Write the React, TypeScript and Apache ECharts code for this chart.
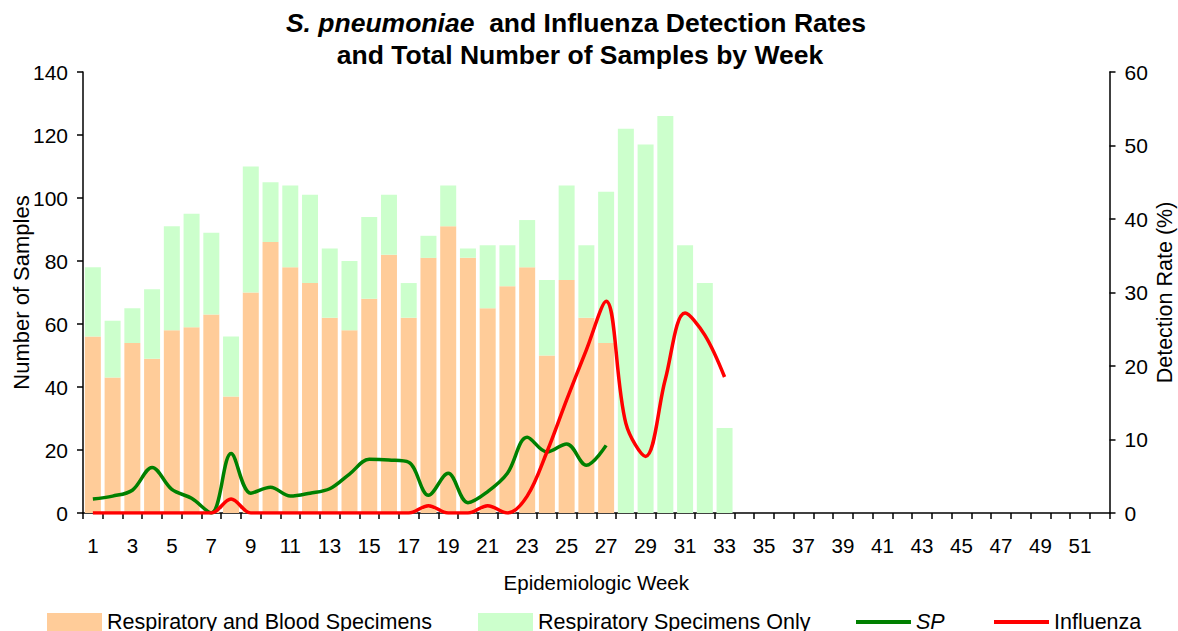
import React, { useEffect, useRef } from "react";
import * as echarts from "echarts";

const weeks: string[] = Array.from({ length: 52 }, (_, i) => String(i + 1));

// Respiratory and Blood Specimens (weeks 1-33)
const respBlood: number[] = [
  56, 43, 54, 49, 58, 59, 63, 37, 70, 86, 78, 73, 62, 58, 68, 82, 62, 81, 91, 81,
  65, 72, 78, 50, 74, 62, 54, 0, 0, 0, 0, 0, 0,
];
// Total samples per week (weeks 1-33)
const totalSamples: number[] = [
  78, 61, 65, 71, 91, 95, 89, 56, 110, 105, 104, 101, 84, 80, 94, 101, 73, 88, 104, 84,
  85, 85, 93, 74, 104, 85, 102, 122, 117, 126, 85, 73, 27,
];
// Respiratory Specimens Only = total - resp&blood
const respOnly: number[] = totalSamples.map((t, i) => t - respBlood[i]);

// Detection rates (%)
const spRate: number[] = [
  1.9, 2.3, 3.1, 6.2, 3.2, 2.0, 0, 8.1, 2.7, 3.5, 2.3, 2.7, 3.3, 5.3, 7.3, 7.2, 6.9, 2.4,
  5.4, 1.4, 2.9, 5.4, 10.3, 8.3, 9.4, 6.5, 9.2,
];
const fluRate: number[] = [
  0, 0, 0, 0, 0, 0, 0, 1.9, 0, 0, 0, 0, 0, 0, 0, 0, 0, 1.0, 0, 0, 1.0, 0, 2.3, 8.3,
  15.4, 22.2, 28.8, 12.2, 7.7, 18.2, 27.2, 24.2, 18.5,
];

const FONT = "'Liberation Sans', Arial, Helvetica, sans-serif";

export default function App() {
  const ref = useRef<HTMLDivElement>(null);
  useEffect(() => {
    if (!ref.current) return;
    const chart = echarts.init(ref.current, null, { renderer: "svg" });
    const axisLine = { show: true, lineStyle: { color: "#000", width: 1.5 } };
    const textStyle = { fontSize: 21.5, fontFamily: FONT, color: "#000" };
    const barLegend = {
      top: 611,
      itemWidth: 55,
      itemHeight: 18,
      padding: 0,
      textStyle,
    };
    const lineLegend = {
      top: 611,
      itemWidth: 55,
      itemHeight: 4,
      padding: 0,
      textStyle,
    };
    chart.setOption({
      animation: false,
      backgroundColor: "#fff",
      textStyle: { fontFamily: FONT },
      graphic: [
        {
          type: "text",
          x: 576,
          y: 23,
          style: {
            text: "{i|S. pneumoniae}  and Influenza Detection Rates",
            align: "center",
            verticalAlign: "middle",
            fontSize: 26.5,
            fontWeight: "bold",
            fontFamily: FONT,
            fill: "#000",
            rich: {
              i: { fontStyle: "italic", fontWeight: "bold", fontSize: 26.5, fontFamily: FONT, fill: "#000" },
            },
          },
        },
        {
          type: "text",
          x: 580,
          y: 55,
          style: {
            text: "and Total Number of Samples by Week",
            align: "center",
            verticalAlign: "middle",
            fontSize: 26.5,
            fontWeight: "bold",
            fontFamily: FONT,
            fill: "#000",
          },
        },
      ],
      grid: { left: 83, right: 68.5, top: 72, bottom: 118, outerBoundsMode: "none", containLabel: false },
      legend: [
        { ...barLegend, left: 47, data: [{ name: "Respiratory and Blood Specimens", icon: "rect" }] },
        { ...barLegend, left: 478, data: [{ name: "Respiratory Specimens Only", icon: "rect" }] },
        {
          ...lineLegend,
          left: 856,
          data: [{ name: "SP", icon: "rect" }],
          textStyle: { ...textStyle, fontStyle: "italic" },
        },
        { ...lineLegend, left: 994, data: [{ name: "Influenza", icon: "rect" }] },
      ],
      xAxis: {
        type: "category",
        data: weeks,
        boundaryGap: true,
        name: "Epidemiologic Week",
        nameLocation: "middle",
        nameGap: 59,
        nameMoveOverlap: false,
        nameTextStyle: { fontSize: 20.5, fontFamily: FONT, color: "#000" },
        axisLine,
        axisTick: { show: true, interval: 0, length: 6, lineStyle: { color: "#000", width: 1.5 } },
        axisLabel: { interval: 1, margin: 22, fontSize: 20.5, fontFamily: FONT, color: "#000" },
        splitLine: { show: false },
      },
      yAxis: [
        {
          type: "value",
          min: 0,
          max: 140,
          interval: 20,
          name: "Number of Samples",
          nameLocation: "middle",
          nameGap: 51,
          nameMoveOverlap: false,
          nameTextStyle: { fontSize: 22, fontFamily: FONT, color: "#000" },
          axisLine,
          axisTick: { show: true, length: 6, lineStyle: { color: "#000", width: 1.5 } },
          axisLabel: { margin: 15, fontSize: 21, fontFamily: FONT, color: "#000" },
          splitLine: { show: false },
        },
        {
          type: "value",
          min: 0,
          max: 60,
          interval: 10,
          position: "right",
          name: "Detection Rate (%)",
          nameLocation: "middle",
          nameGap: 44,
          nameRotate: 90,
          nameMoveOverlap: false,
          nameTextStyle: { fontSize: 21.5, fontFamily: FONT, color: "#000" },
          axisLine,
          axisTick: { show: true, length: 6, lineStyle: { color: "#000", width: 1.5 } },
          axisLabel: { margin: 15, fontSize: 21, fontFamily: FONT, color: "#000" },
          splitLine: { show: false },
        },
      ],
      series: [
        {
          name: "Respiratory and Blood Specimens",
          type: "bar",
          stack: "samples",
          data: respBlood,
          barCategoryGap: "19%",
          itemStyle: { color: "#FFCC99" },
        },
        {
          name: "Respiratory Specimens Only",
          type: "bar",
          stack: "samples",
          data: respOnly,
          itemStyle: { color: "#CCFFCC" },
        },
        {
          name: "SP",
          type: "line",
          yAxisIndex: 1,
          data: spRate,
          smooth: 0.35,
          symbol: "none",
          lineStyle: { color: "#008000", width: 3.5 },
          itemStyle: { color: "#008000" },
        },
        {
          name: "Influenza",
          type: "line",
          yAxisIndex: 1,
          data: fluRate,
          smooth: 0.35,
          symbol: "none",
          lineStyle: { color: "#FF0000", width: 3.5 },
          itemStyle: { color: "#FF0000" },
        },
      ],
    });
    return () => chart.dispose();
  }, []);
  return (
    <div
      ref={ref}
      style={{ position: "fixed", left: 0, top: 0, width: 1178, height: 631, background: "#fff" }}
    />
  );
}
